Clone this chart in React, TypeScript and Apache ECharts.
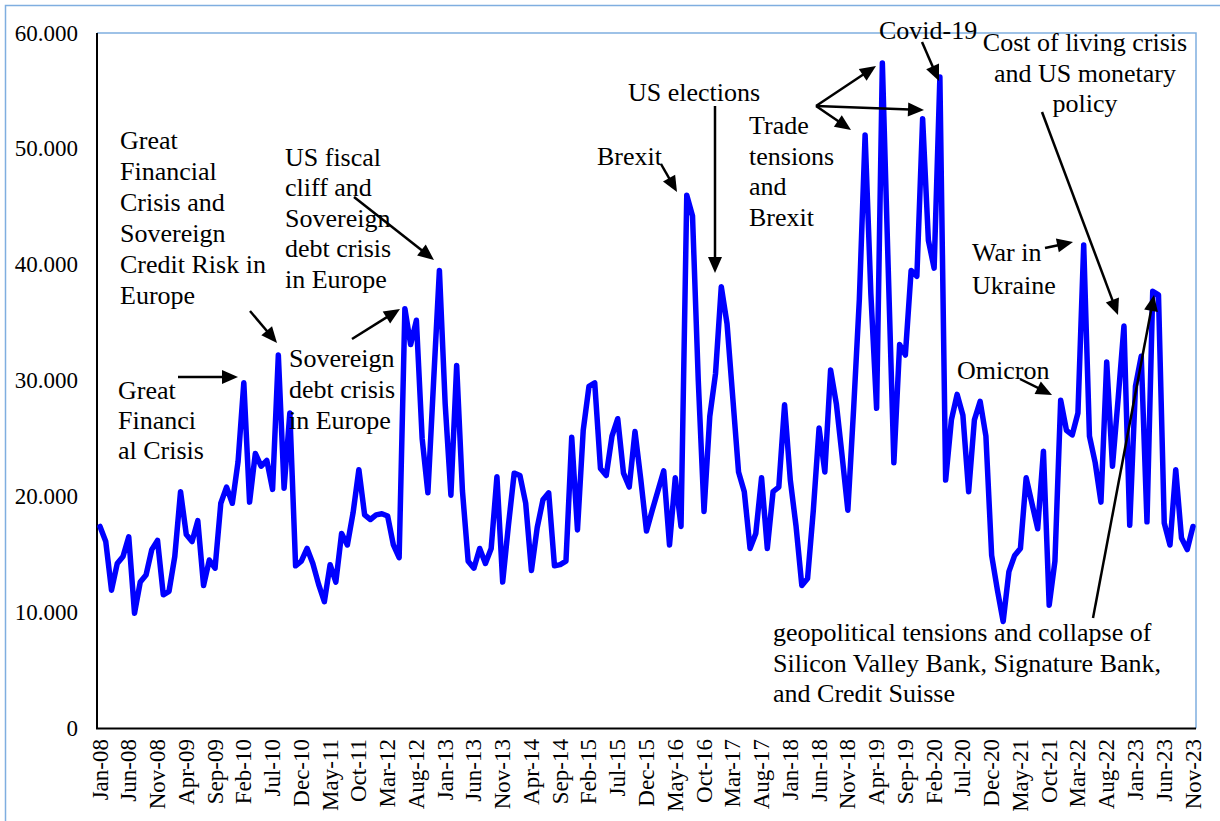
import React, { useEffect, useRef } from "react";
import * as echarts from "echarts";

const MONTH_NAMES = ["Jan", "Feb", "Mar", "Apr", "May", "Jun", "Jul", "Aug", "Sep", "Oct", "Nov", "Dec"];
const FIRST_YEAR = 8; // 2008

const values2008_2011 = [
  17.4, 16.1, 11.9, 14.2, 14.8, 16.5, 9.9, 12.6, 13.2, 15.4, 16.2, 11.5,
  11.8, 14.8, 20.4, 16.7, 16.1, 17.9, 12.3, 14.5, 13.8, 19.4, 20.8, 19.4,
  23.0, 29.8, 19.5, 23.7, 22.6, 23.1, 20.6, 32.2, 20.7, 27.2, 14.0, 14.4,
  15.5, 14.2, 12.4, 10.9, 14.1, 12.6, 16.8, 15.8, 18.6, 22.3, 18.4, 18.0,
];
const values2012_2015 = [
  18.4, 18.5, 18.3, 15.8, 14.7, 36.2, 33.1, 35.2, 25.0, 20.3, 30.0, 39.5,
  28.0, 20.1, 31.3, 20.5, 14.4, 13.8, 15.5, 14.2, 15.5, 21.7, 12.6, 17.5,
  22.0, 21.8, 19.4, 13.6, 17.3, 19.7, 20.3, 14.0, 14.1, 14.4, 25.1, 17.1,
  25.7, 29.5, 29.8, 22.4, 21.8, 25.2, 26.7, 22.0, 20.8, 25.6, 21.5, 17.0,
];
const values2016_2019 = [
  18.8, 20.5, 22.2, 15.8, 21.6, 17.4, 46.0, 44.2, 30.0, 18.7, 26.9, 30.6,
  38.1, 34.9, 28.5, 22.1, 20.4, 15.5, 16.8, 21.6, 15.5, 20.4, 20.8, 27.9,
  21.4, 17.4, 12.3, 12.9, 18.8, 25.9, 22.1, 30.9, 28.0, 23.5, 18.8, 27.5,
  37.0, 51.2, 37.5, 27.6, 57.4, 40.0, 22.9, 33.1, 32.2, 39.5, 39.0, 52.6,
];
const values2020_2023 = [
  42.1, 39.7, 56.2, 21.4, 26.6, 28.8, 27.0, 20.4, 26.6, 28.2, 25.2, 14.9,
  11.9, 9.2, 13.5, 14.9, 15.5, 21.6, 19.4, 17.2, 23.9, 10.6, 14.4, 28.3,
  25.7, 25.3, 27.2, 41.7, 25.2, 22.9, 19.5, 31.6, 22.6, 28.5, 34.7, 17.5,
  29.5, 32.1, 17.8, 37.7, 37.4, 17.7, 15.8, 22.3, 16.4, 15.4, 17.4,
];

const seriesValues = [...values2008_2011, ...values2012_2015, ...values2016_2019, ...values2020_2023];
const categories = seriesValues.map((_, i) => {
  const m = i % 12;
  const y = FIRST_YEAR + Math.floor(i / 12);
  return `${MONTH_NAMES[m]}-${String(y).padStart(2, "0")}`;
});

const yMin = 0;
const yMax = 60;
const yStep = 10;

const FONT = '"Liberation Serif", "Times New Roman", serif';
const ANN_FONT = `26px ${FONT}`;

type Ann = { lines: string[]; x: number; ys: number[]; align?: string };
const annotations: Ann[] = [
  { lines: ["Great", "Financial", "Crisis and", "Sovereign", "Credit Risk in", "Europe"], x: 120, ys: [140, 171, 202, 233, 264, 295] },
  { lines: ["Great", "Financi", "al Crisis"], x: 118, ys: [390, 420, 450] },
  { lines: ["US fiscal", "cliff and", "Sovereign", "debt crisis", "in Europe"], x: 285, ys: [157, 187, 218, 248, 279] },
  { lines: ["Sovereign", "debt crisis", "in Europe"], x: 289, ys: [358, 389, 420] },
  { lines: ["Brexit"], x: 597, ys: [156] },
  { lines: ["US elections"], x: 628, ys: [92] },
  { lines: ["Trade", "tensions", "and", "Brexit"], x: 749, ys: [125, 156, 186, 217] },
  { lines: ["Covid-19"], x: 879, ys: [30] },
  { lines: ["Cost of living crisis", "and US monetary", "policy"], x: 1085, ys: [42, 73, 103], align: "center" },
  { lines: ["War in", "Ukraine"], x: 972, ys: [252, 285] },
  { lines: ["Omicron"], x: 957, ys: [370] },
  { lines: ["geopolitical tensions and collapse of", "Silicon Valley Bank, Signature Bank,", "and Credit Suisse"], x: 773, ys: [632, 663, 693] },
];

const arrows: number[][] = [
  [250, 311, 277, 343],
  [178, 377, 238, 377],
  [354, 197, 434, 260],
  [352, 339, 400, 309],
  [661, 164, 677, 192],
  [715, 106, 715, 273],
  [816, 106, 876, 66],
  [816, 106, 924, 110],
  [816, 106, 851, 130],
  [922, 42, 939, 81],
  [1042, 112, 1118, 315],
  [1045, 248, 1073, 242],
  [1020, 379, 1052, 395],
  [1093, 618, 1154, 295],
];

// plot frame (axis lines sit 3px outside the first/last data points)
const FRAME = { left: 97, right: 1196, top: 33, bottom: 728.5 };
const FRAME_BLUE = "#7FAEE0";

function buildGraphics() {
  const els: any[] = [];
  els.push({
    type: "rect",
    shape: { x: 5.5, y: 5.5, width: 1400, height: 1000 },
    style: { fill: "none", stroke: FRAME_BLUE, lineWidth: 1.5 },
    silent: true,
  });
  els.push({
    type: "polyline",
    shape: { points: [[FRAME.left, FRAME.top], [FRAME.right, FRAME.top], [FRAME.right, FRAME.bottom]] },
    style: { fill: "none", stroke: FRAME_BLUE, lineWidth: 1.5 },
    z: 1,
  });
  els.push({
    type: "polyline",
    shape: { points: [[FRAME.left, FRAME.top], [FRAME.left, FRAME.bottom], [FRAME.right, FRAME.bottom]] },
    style: { fill: "none", stroke: "#000", lineWidth: 2 },
    z: 2,
  });
  annotations.forEach((a) => {
    a.lines.forEach((t, k) => {
      els.push({
        type: "text",
        x: a.x,
        y: a.ys[k],
        style: {
          text: t,
          font: ANN_FONT,
          fill: "#000",
          align: a.align || "left",
          verticalAlign: "middle",
        },
        z: 10,
      });
    });
  });
  arrows.forEach(([x1, y1, x2, y2]) => {
    const head = 16;
    const half = 7;
    const dx = x2 - x1;
    const dy = y2 - y1;
    const L = Math.hypot(dx, dy);
    const ux = dx / L;
    const uy = dy / L;
    const bx = x2 - ux * head;
    const by = y2 - uy * head;
    els.push({
      type: "line",
      shape: { x1, y1, x2: bx + ux * 2, y2: by + uy * 2 },
      style: { stroke: "#000", lineWidth: 2.5 },
      z: 10,
    });
    els.push({
      type: "polygon",
      shape: {
        points: [
          [x2, y2],
          [bx - uy * half, by + ux * half],
          [bx + uy * half, by - ux * half],
        ],
      },
      style: { fill: "#000" },
      z: 10,
    });
  });
  return els;
}

export default function App() {
  const ref = useRef<HTMLDivElement>(null);
  useEffect(() => {
    if (!ref.current) return;
    const chart = echarts.init(ref.current, undefined, { renderer: "svg" });
    chart.setOption({
      animation: false,
      backgroundColor: "#ffffff",
      grid: {
        left: 100,
        right: 27,
        top: 33,
        bottom: 93,
        show: false,
      },
      xAxis: {
        type: "category",
        data: categories,
        boundaryGap: false,
        axisLine: { show: false },
        axisTick: { show: false },
        axisLabel: {
          interval: 4,
          rotate: 90,
          margin: 11,
          color: "#000",
          fontFamily: FONT,
          fontSize: 23,
        },
        splitLine: { show: false },
      },
      yAxis: {
        type: "value",
        min: yMin,
        max: yMax,
        interval: yStep,
        axisLine: { show: false },
        axisTick: { show: false },
        splitLine: { show: false },
        axisLabel: {
          margin: 22,
          color: "#000",
          fontFamily: FONT,
          fontSize: 23,
          formatter: (v: number) => (v === 0 ? "0" : v.toFixed(3)),
        },
      },
      series: [
        {
          type: "line",
          data: seriesValues,
          showSymbol: false,
          symbol: "none",
          lineStyle: { color: "#0000FF", width: 5.5, join: "round", cap: "round" },
          z: 5,
        },
      ],
      graphic: buildGraphics(),
    });
    return () => chart.dispose();
  }, []);
  return (
    <div
      ref={ref}
      style={{ position: "absolute", left: 0, top: 0, width: 1220, height: 821, background: "#fff" }}
    />
  );
}
